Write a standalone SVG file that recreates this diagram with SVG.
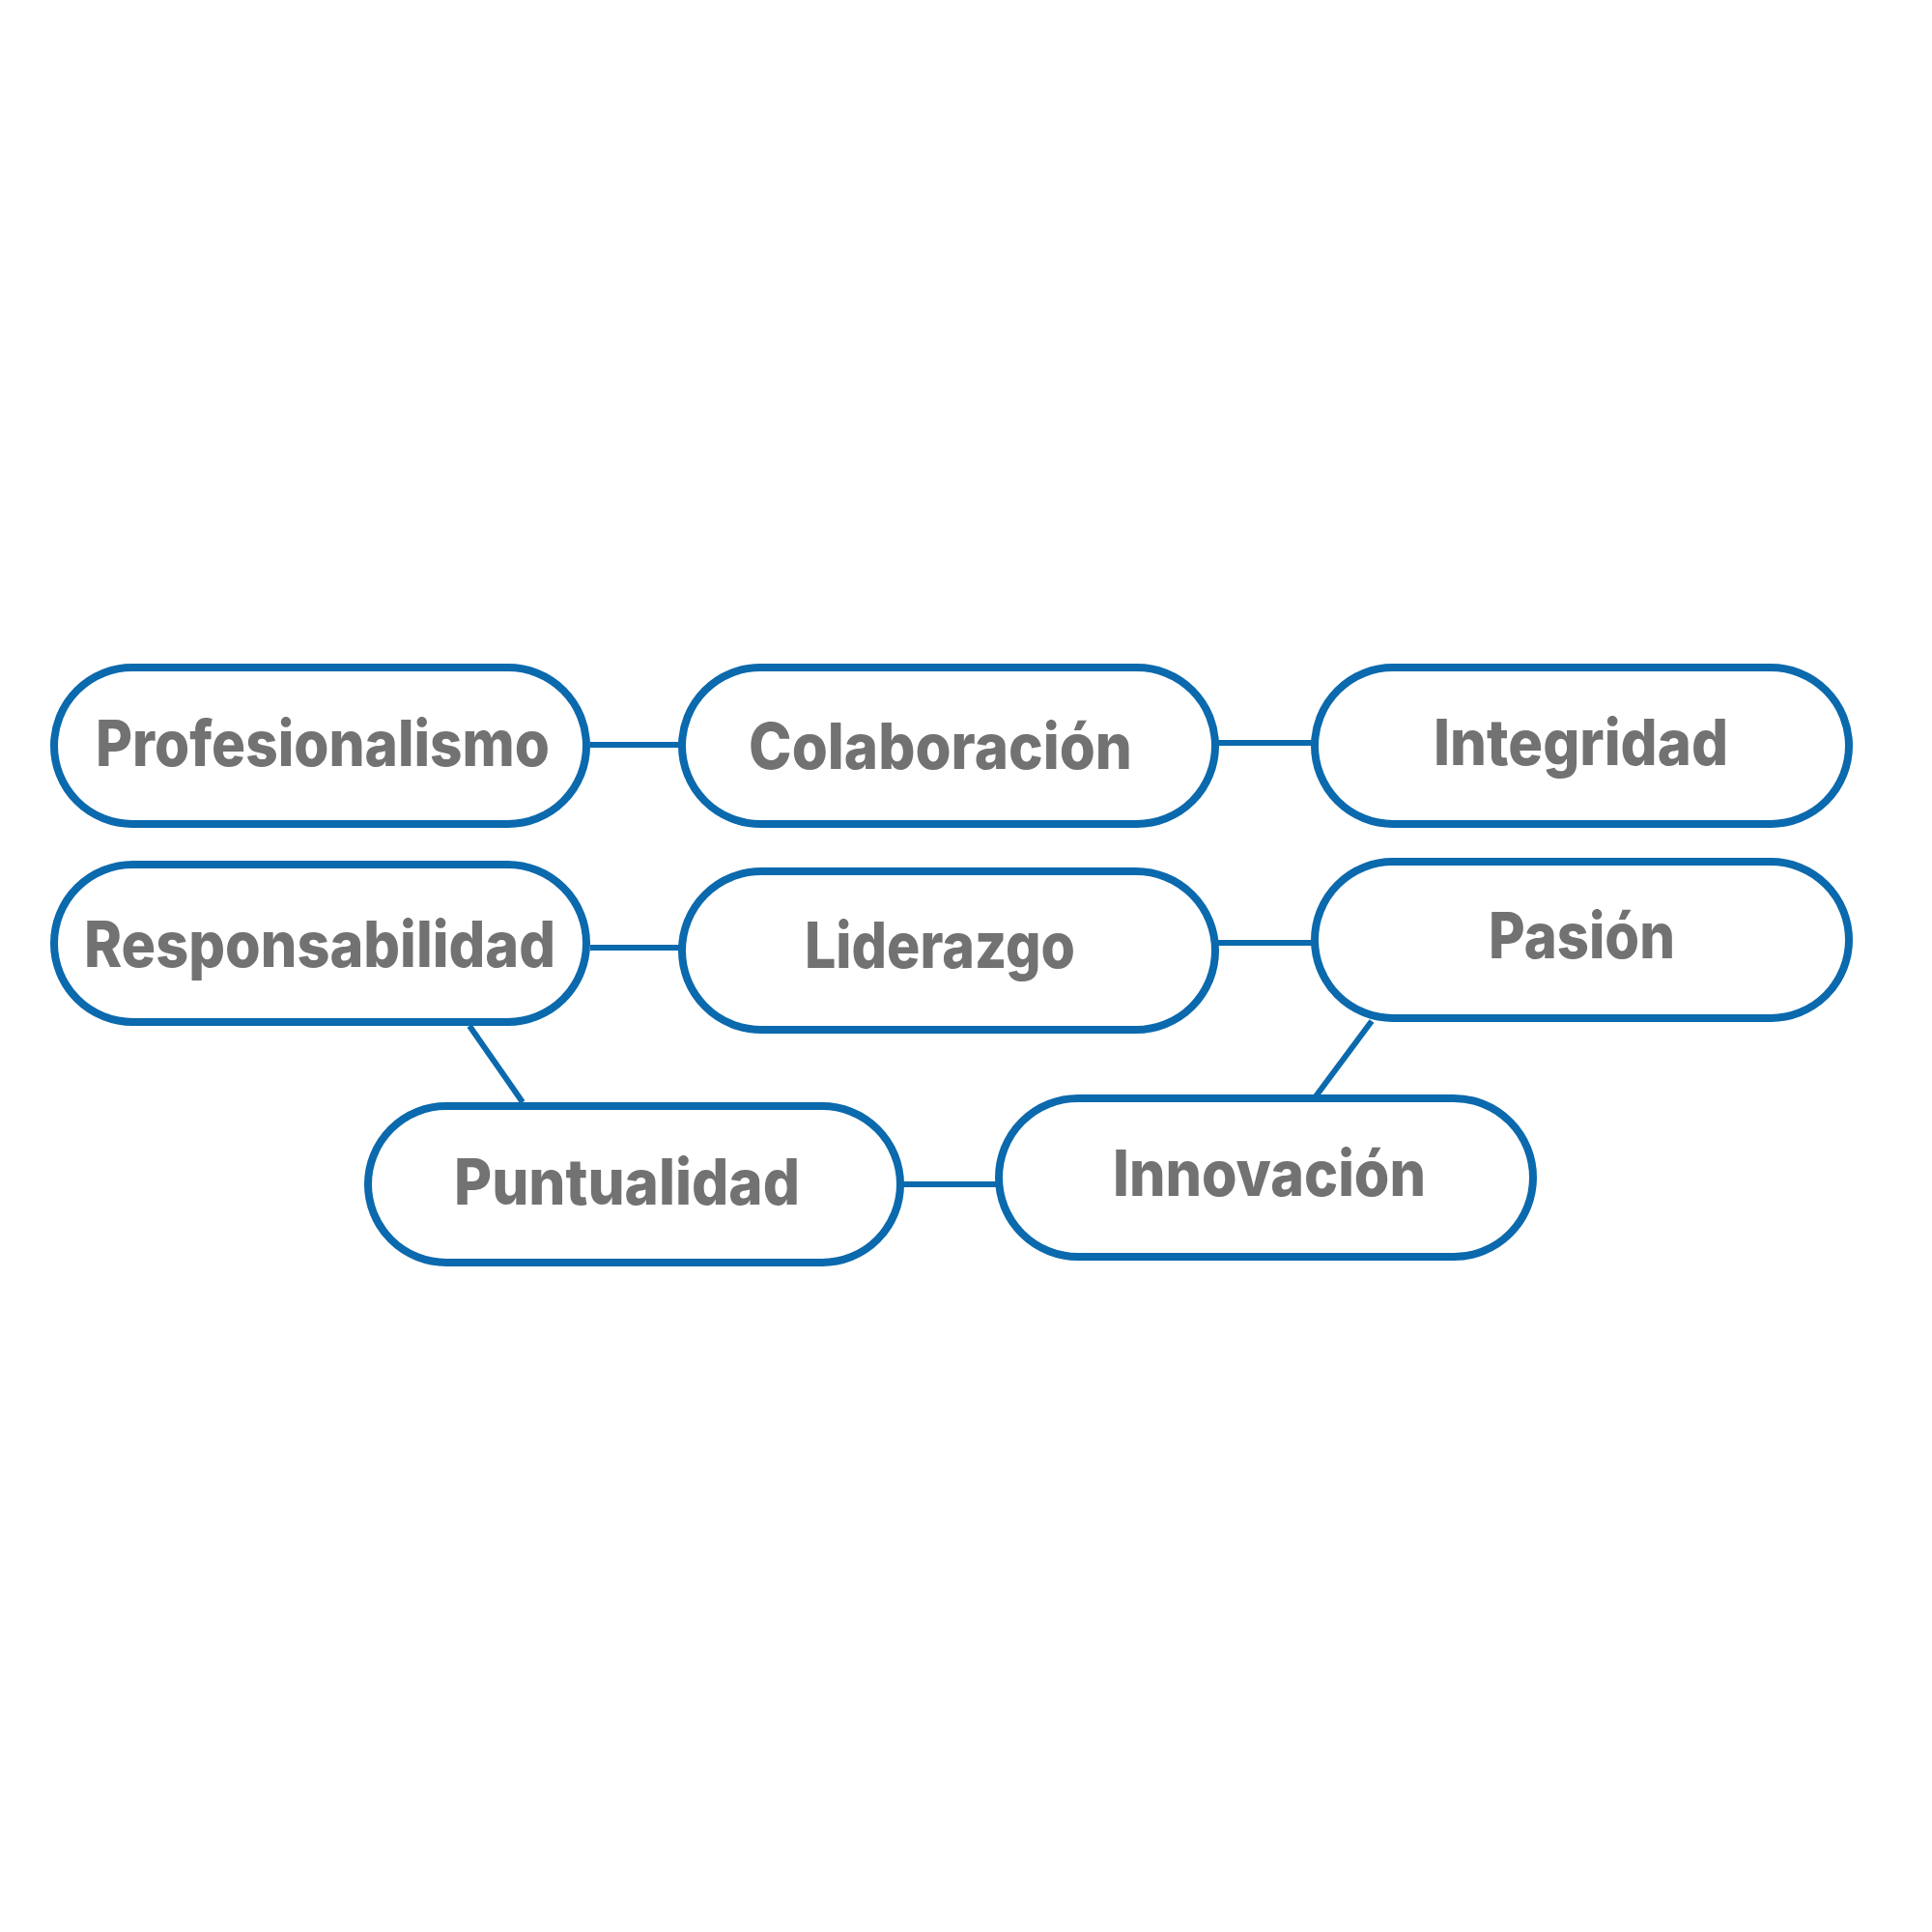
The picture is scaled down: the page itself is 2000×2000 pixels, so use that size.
<svg xmlns="http://www.w3.org/2000/svg" width="2000" height="2000" viewBox="0 0 2000 2000">
<style>
.pill{fill:#ffffff;stroke:#0b69ad;stroke-width:8}
.conn{stroke:#0b69ad;stroke-width:6;fill:none}
.lbl{font-family:Inter,"Noto Sans","Liberation Sans",sans-serif;font-weight:800;font-size:66px;fill:#727272}
</style>
<rect width="2000" height="2000" fill="#ffffff"/>
<g id="connectors">
<line class="conn" x1="611" y1="771" x2="703" y2="771"/>
<line class="conn" x1="1261" y1="769" x2="1358" y2="769"/>
<line class="conn" x1="611" y1="981" x2="703" y2="981"/>
<line class="conn" x1="1261" y1="976" x2="1358" y2="976"/>
<line class="conn" x1="935" y1="1226" x2="1031" y2="1226"/>
<line class="conn" x1="486" y1="1062" x2="541" y2="1141"/>
<line class="conn" x1="1420" y1="1057" x2="1362" y2="1135"/>
</g>
<g id="node-profesionalismo">
<rect class="pill" x="56" y="691" width="551" height="162" rx="81"/>
<text class="lbl" x="99" y="793" textLength="470" lengthAdjust="spacingAndGlyphs">Profesionalismo</text>
</g>
<g id="node-colaboracion">
<rect class="pill" x="706" y="691" width="552" height="162" rx="81"/>
<text class="lbl" x="775" y="796" textLength="397" lengthAdjust="spacingAndGlyphs">Colaboración</text>
</g>
<g id="node-integridad">
<rect class="pill" x="1361" y="691" width="553" height="162" rx="81"/>
<text class="lbl" x="1484" y="792" textLength="305" lengthAdjust="spacingAndGlyphs">Integridad</text>
</g>
<g id="node-responsabilidad">
<rect class="pill" x="56" y="895" width="551" height="163" rx="81.5"/>
<text class="lbl" x="87" y="1001" textLength="488" lengthAdjust="spacingAndGlyphs">Responsabilidad</text>
</g>
<g id="node-liderazgo">
<rect class="pill" x="706" y="902" width="552" height="164" rx="82"/>
<text class="lbl" x="833" y="1002" textLength="280" lengthAdjust="spacingAndGlyphs">Liderazgo</text>
</g>
<g id="node-pasion">
<rect class="pill" x="1361" y="892" width="553" height="162" rx="81"/>
<text class="lbl" x="1541" y="992" textLength="193" lengthAdjust="spacingAndGlyphs">Pasión</text>
</g>
<g id="node-puntualidad">
<rect class="pill" x="381" y="1145" width="551" height="162" rx="81"/>
<text class="lbl" x="470" y="1247" textLength="358" lengthAdjust="spacingAndGlyphs">Puntualidad</text>
</g>
<g id="node-innovacion">
<rect class="pill" x="1034" y="1137" width="553" height="164" rx="82"/>
<text class="lbl" x="1152" y="1238" textLength="324" lengthAdjust="spacingAndGlyphs">Innovación</text>
</g>
</svg>
